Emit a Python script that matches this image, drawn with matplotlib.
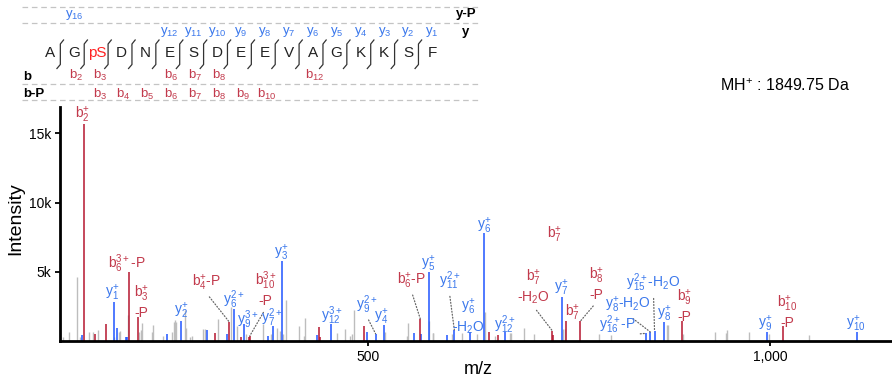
import matplotlib
matplotlib.use('Agg')
import matplotlib.pyplot as plt
from matplotlib.lines import Line2D

plt.rcParams['font.family'] = ['Liberation Sans', 'DejaVu Sans']
plt.rcParams['mathtext.fontset'] = 'custom'
plt.rcParams['mathtext.rm'] = 'Liberation Sans'
plt.rcParams['mathtext.it'] = 'Liberation Sans'
plt.rcParams['mathtext.bf'] = 'Liberation Sans:bold'
plt.rcParams['mathtext.default'] = 'regular'

# ---------------- data ----------------
sequence = ['A', 'G', 'pS', 'D', 'N', 'E', 'S', 'D', 'E', 'E', 'V', 'A', 'G', 'K', 'K', 'S', 'F']
b_ladder = [2, 3, 6, 7, 8, 12]
bP_ladder = [3, 4, 5, 6, 7, 8, 9, 10]
y_ladder = [1, 2, 3, 4, 5, 6, 7, 8, 9, 10, 11, 12]
yP_ladder = [16]
precursor = 'MH$^{+}$ : 1849.75 Da'

gray_mz = [120.6, 128.1, 138.1, 141.0, 153.0, 157.2, 164.2, 184.1, 190.3, 191.5, 201.5,
           215.2, 217.3, 218.9, 231.3, 232.6, 245.0, 256.2, 258.0, 259.6, 260.8, 272.0,
           273.6, 278.2, 280.3, 294.8, 296.5, 313.4, 328.9, 336.3, 347.9, 369.4, 379.0,
           386.8, 390.5, 394.3, 398.0, 413.4, 420.0, 421.6, 461.1, 471.4, 477.6, 479.7,
           482.6, 521.1, 547.8, 549.0, 575.9, 580.1, 580.8, 604.1, 616.2, 634.8, 645.5,
           657.6, 675.9, 677.1, 694.0, 706.5, 742.5, 744.7, 786.6, 802.2, 871.2, 872.4,
           891.1, 930.9, 945.3, 946.5, 973.9, 998.8, 1048.5]
gray_int = [290, 650, 4620, 290, 650, 650, 770, 290, 650, 720, 1850,
            650, 800, 1320, 650, 1150, 360, 650, 1370, 1490, 1370, 2210,
            960, 290, 360, 840, 840, 1570, 2460, 1080, 480, 1250, 480,
            920, 720, 480, 2960, 1080, 360, 1690, 600, 840, 360, 530,
            2210, 670, 360, 1280, 1440, 580, 580, 530, 600, 480, 2120,
            360, 550, 550, 960, 480, 840, 840, 480, 410, 1130, 1130,
            530, 630, 550, 800, 630, 480, 430]

y_mz = [144.3, 183.3, 187.1, 199.0, 200.2, 250.0, 267.4, 298.8, 324.6, 333.3, 345.8,
        375.6, 381.8, 393.0, 436.6, 454.0, 498.8, 509.0, 518.9, 557.2, 565.5, 574.9,
        598.3, 607.0, 626.9, 644.5, 670.6, 741.5, 845.0, 850.8, 856.0, 868.4, 995.5, 1108.2]
y_int = [430, 2820, 910, 290, 290, 530, 1440, 790, 480, 2310, 1200,
         360, 1080, 5780, 430, 1230, 670, 530, 1150, 580, 480, 5000,
         430, 800, 670, 7820, 650, 3180, 550, 650, 720, 1370, 650, 650]

b_mz = [146.8, 160.4, 174.1, 202.7, 213.9, 309.9, 327.1, 342.0, 351.2, 352.5, 439.1,
        440.3, 495.0, 564.7, 650.5, 661.7, 729.1, 730.1, 746.3, 763.9, 889.6, 1016.2]
b_int = [15650, 480, 1250, 4980, 1730, 580, 1370, 290, 290, 360, 1010,
         290, 1080, 1590, 650, 410, 720, 430, 1440, 1440, 1440, 1080]

# annotations: (series, m/z of peak, label, dx px, dy px, leader)
annotations = [
    ('b', 146.8, '$b_{2}^{+}$', -2, 9, False),
    ('y', 183.3, '$y_{1}^{+}$', -2, 9, False),
    ('b', 202.7, '$b_{6}^{3+}$-P', -2, 8, False),
    ('b', 213.9, '$b_{3}^{+}$\n-P', 3, 15, False),
    ('y', 267.4, '$y_{2}^{+}$', 0, 10, False),
    ('b', 327.1, '$b_{4}^{+}$-P', -23, 39, True),
    ('y', 333.3, '$y_{6}^{2+}$', -1, 9, False),
    ('y', 345.8, '$y_{9}^{3+}$', 3, 5, False),
    ('b', 352.5, '$b_{10}^{3+}$\n-P', 16, 47, True),
    ('y', 381.8, '$y_{7}^{2+}$', -2, 8, False),
    ('y', 393.0, '$y_{3}^{+}$', -1, 8, False),
    ('y', 454.0, '$y_{12}^{3+}$', 0, 8, False),
    ('y', 509.0, '$y_{9}^{2+}$', -9, 29, True),
    ('y', 518.9, '$y_{4}^{+}$', -2, 8, False),
    ('b', 564.7, '$b_{6}^{+}$-P', -9, 38, True),
    ('y', 574.9, '$y_{5}^{+}$', 0, 8, False),
    ('y', 607.0, '$y_{11}^{2+}$', -5, 49, True),
    ('y', 626.9, '$y_{6}^{+}$\n-H$_{2}$O', -2, 15, False),
    ('y', 644.5, '$y_{6}^{+}$', 0, 7, False),
    ('y', 670.6, '$y_{12}^{2+}$', -1, 7, False),
    ('b', 730.1, '$b_{7}^{+}$', 1, 100, False),
    ('b', 729.1, '$b_{7}^{+}$\n-H$_{2}$O', -19, 44, True),
    ('y', 741.5, '$y_{7}^{+}$', -1, 9, False),
    ('b', 746.3, '$b_{7}^{+}$', 6, 8, False),
    ('b', 763.9, '$b_{8}^{+}$\n-P', 16, 37, True),
    ('y', 856.0, '$y_{15}^{2+}$-H$_{2}$O', -1, 48, True),
    ('y', 850.8, '$y_{8}^{+}$-H$_{2}$O', -22, 27, True),
    ('y', 845.0, '$y_{16}^{2+}$-P', -28, 9, True),
    ('y', 868.4, '$y_{8}^{+}$', 0, 8, False),
    ('b', 889.6, '$b_{9}^{+}$\n-P', 3, 15, False),
    ('y', 995.5, '$y_{9}^{+}$', -1, 8, False),
    ('b', 1016.2, '$b_{10}^{+}$\n-P', 4, 14, False),
    ('y', 1108.2, '$y_{10}^{+}$', -2, 8, False),
]

# ---------------- style ----------------
W, H = 892, 378
GRAY = '#bdbdbd'
BLUE = '#1f55ff'
RED = '#b5162f'
BLUE_T = '#3b78ec'
RED_T = '#c23a4c'

fig = plt.figure(figsize=(W / 100, H / 100), dpi=100)


def fx(x):
    return x / W


def fy(y):
    return 1 - y / H


ax = fig.add_axes([fx(60), fy(341), fx(892) - fx(60), fy(107) - fy(341)])

ax.vlines(gray_mz, 0, gray_int, colors=GRAY, lw=1.0, zorder=2)
ax.vlines(y_mz, 0, y_int, colors=BLUE, lw=1.1, zorder=2.1)
ax.vlines(b_mz, 0, b_int, colors=RED, lw=1.1, zorder=2.2)

ax.set_xlim(116.5, 1151.4)
ax.set_ylim(0, 16900)
for s in ['top', 'right']:
    ax.spines[s].set_visible(False)
for s in ['left', 'bottom']:
    ax.spines[s].set_linewidth(2.0)
ax.set_yticks([5000, 10000, 15000])
ax.set_yticklabels(['5k', '10k', '15k'])
ax.set_xticks([500, 1000])
ax.set_xticklabels(['500', '1,000'])
ax.tick_params(axis='both', direction='out', length=3.5, width=1.3, labelsize=10, pad=3)
for lab in ax.get_xticklabels() + ax.get_yticklabels():
    lab.set_fontfamily(['Liberation Sans Narrow', 'Liberation Sans'])

fig.text(fx(15.5), fy(218.5), 'Intensity', rotation=90, ha='center', va='center', fontsize=14)
fig.text(fx(478), fy(369), 'm/z', ha='center', va='center', fontsize=13)
fig.text(fx(720), fy(86), precursor, ha='left', va='center', fontsize=11.5)

series = {'y': (y_mz, y_int), 'b': (b_mz, b_int)}
for s, mz, txt, dx, dy, lead in annotations:
    xs, ys = series[s]
    i = min(range(len(xs)), key=lambda k: abs(xs[k] - mz))
    col = BLUE_T if s == 'y' else RED_T
    kw = dict(xytext=(dx, dy), textcoords='offset pixels', ha='center', va='center',
              color=col, fontsize=10, multialignment='center', zorder=5)
    if lead:
        kw['arrowprops'] = dict(arrowstyle='-', linestyle=(0, (0.8, 1.6)), color='#666666',
                                lw=0.9, shrinkA=1, shrinkB=0, relpos=(0.5, 0))
    ax.annotate(txt, (xs[i], ys[i]), **kw)

# ---------------- sequence ladder ----------------
for yy in [7, 23, 84, 100]:
    fig.add_artist(Line2D([fx(22), fx(478)], [fy(yy), fy(yy)], color='#c4c4c4', lw=0.9,
                          linestyle=(0, (4.5, 3))))

x0, step = 50, 23.875
n = len(sequence)
for i, aa in enumerate(sequence):
    fig.text(fx(x0 + i * step), fy(53), aa, ha='center', va='center', fontsize=11,
             color='#ff2222' if aa == 'pS' else '#222222')
for i in range(n - 1):
    m = x0 + (i + 0.5) * step
    xs_ = [m - 5, m - 1.6, m - 1.6, m + 1.6]
    ys_ = [68.5, 64.5, 44.0, 40.0]
    fig.add_artist(Line2D([fx(v) for v in xs_], [fy(v) for v in ys_], color='#333333', lw=0.9))

for k in y_ladder:
    i = n - k
    fig.text(fx(x0 + i * step), fy(32), '$y_{%d}$' % k, ha='center', va='center',
             fontsize=9.5, color=BLUE_T)
for k in yP_ladder:
    i = n - k
    fig.text(fx(x0 + i * step), fy(15), '$y_{%d}$' % k, ha='center', va='center',
             fontsize=9.5, color=BLUE_T)
for k in b_ladder:
    i = k - 1
    fig.text(fx(x0 + i * step + 2), fy(75), '$b_{%d}$' % k, ha='center', va='center',
             fontsize=9.5, color=RED_T)
for k in bP_ladder:
    i = k - 1
    fig.text(fx(x0 + i * step + 2), fy(94), '$b_{%d}$' % k, ha='center', va='center',
             fontsize=9.5, color=RED_T)

fig.text(fx(456), fy(14), 'y-P', ha='left', va='center', fontsize=9.5, fontweight='bold')
fig.text(fx(462), fy(32), 'y', ha='left', va='center', fontsize=9.5, fontweight='bold')
fig.text(fx(23), fy(77.5), 'b', ha='left', va='center', fontsize=9.5, fontweight='bold')
fig.text(fx(23), fy(94), 'b-P', ha='left', va='center', fontsize=9.5, fontweight='bold')

fig.savefig('out.png', dpi=100)
